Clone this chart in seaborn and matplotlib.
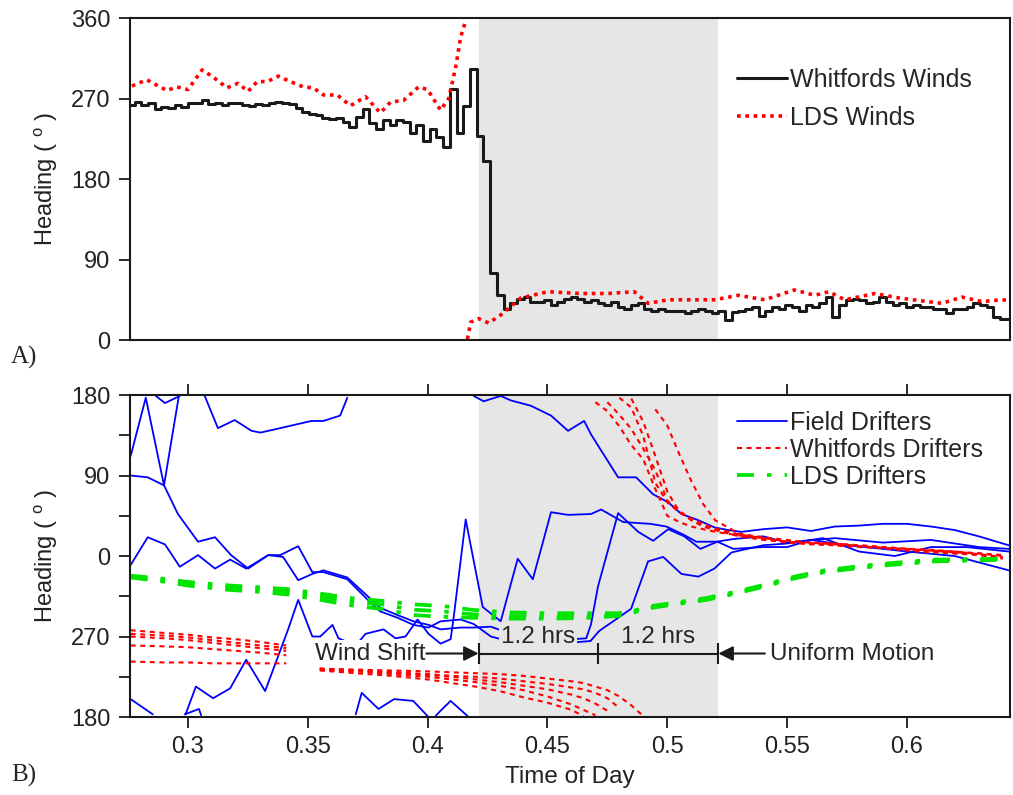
import numpy as np
import pandas as pd
import matplotlib
matplotlib.use('Agg')
import matplotlib.pyplot as plt
from matplotlib.lines import Line2D
import seaborn as sns

sns.set_theme(style='ticks')
plt.rcParams['font.family'] = ['Liberation Sans', 'DejaVu Sans']
plt.rcParams['mathtext.fontset'] = 'custom'
plt.rcParams['mathtext.rm'] = 'Liberation Sans'

# ---------------- data (headings in degrees, unwrapped) ----------------
# A) wind headings
whitfords_wind = [263, 266, 263, 265, 258, 261, 259, 263, 261, 265,
                  265, 268, 264, 265, 263, 265, 265, 263, 262, 264,
                  263, 265, 266, 265, 264, 259, 255, 253, 252, 248,
                  247, 248, 244, 238, 249, 258, 243, 236, 246, 240,
                  246, 244, 231, 240, 222, 236, 227, 216, 281, 232,
                  262, 303, 228,
                  200, 75, 50, 35, 41, 46, 48, 43, 43, 45,
                  39, 43, 46, 48, 46, 43, 45, 41, 39, 43,
                  37, 35, 39, 41, 35, 33, 35, 33, 32, 33,
                  30, 33, 35, 33, 30, 33, 22, 31, 33, 35,
                  37, 27, 33, 37, 35, 39, 37, 33, 39, 37,
                  41, 48, 26, 39, 45, 46, 45, 41, 43, 48,
                  43, 39, 41, 37, 39, 37, 37, 35, 35, 30,
                  35, 35, 37, 41, 39, 37, 26, 24, 24]
t_wind = np.round(0.2763 + 0.0028 * np.arange(len(whitfords_wind)), 4)

t_lds_wind = [0.2766, 0.2828, 0.2912, 0.2954, 0.300, 0.3059, 0.3105, 0.3163, 0.3209, 0.3251,
              0.3289, 0.3331, 0.3377, 0.3427, 0.3481, 0.3523, 0.3565, 0.3623, 0.3678, 0.3741,
              0.3803, 0.3845, 0.390, 0.3962, 0.400, 0.4054, 0.4088, 0.4117, 0.4138, 0.4159,
              0.4166, 0.418, 0.4213, 0.4255, 0.4305, 0.4389, 0.4502, 0.464, 0.4753, 0.4862,
              0.492, 0.5004, 0.5197, 0.5297, 0.5406, 0.5531, 0.5615, 0.5674, 0.5741, 0.5866,
              0.5967, 0.6146, 0.623, 0.6314, 0.6397, 0.644]
lds_wind = [284, 291, 279, 283, 280, 302, 294, 282, 287, 278,
            289, 289, 295, 289, 283, 282, 274, 274, 262, 272,
            254, 266, 268, 283, 280, 257, 270, 305, 339, 357,
            361, 380, 384, 379, 388, 407, 414, 412, 412, 414,
            401, 405, 405, 410, 405, 416, 410, 414, 405, 412,
            407, 401, 408, 403, 405, 404]

# B) drifter headings
t_f1 = [0.2761, 0.2853, 0.2866, 0.2904, 0.2966, 0.2987, 0.3046, 0.3055, 0.307, 0.3125,
        0.3195, 0.3265, 0.3303, 0.3385, 0.3515, 0.3565, 0.3635, 0.3665, 0.370, 0.3725,
        0.3795, 0.386, 0.394, 0.400, 0.4018, 0.4033, 0.4054, 0.4096, 0.4167, 0.4192,
        0.4234, 0.4305, 0.4347, 0.4431, 0.4515, 0.4586, 0.4653, 0.4682, 0.4724, 0.4795,
        0.487, 0.4941, 0.5004, 0.5059, 0.513, 0.5197, 0.5255, 0.531, 0.54, 0.55,
        0.56, 0.57, 0.58, 0.59, 0.60, 0.61, 0.62, 0.63, 0.6425]
field_1 = [200, 183, 179, 171, 179, 183, 189, 182, 179, 143,
           152, 140, 138, 143, 151, 151, 157, 177, 183, 207,
           189, 200, 198, 181, 177, 181, 187, 198, 181, 179,
           173, 179, 174, 168, 157, 140, 151, 136, 118, 88,
           88, 69, 60, 47, 40, 32, 29, 27, 30, 32,
           28, 33, 34, 36, 36, 33, 29, 22, 12]

t_f2 = [0.2761, 0.2832, 0.290, 0.2958, 0.3042, 0.3113, 0.318, 0.3251, 0.3335, 0.3385,
        0.346, 0.3519, 0.3565, 0.3665, 0.375, 0.3803, 0.3874, 0.3941, 0.4004, 0.4054,
        0.4138, 0.4192, 0.4264, 0.435, 0.455, 0.468, 0.4715, 0.4849, 0.492, 0.4983,
        0.5059, 0.513, 0.5197, 0.5268, 0.54, 0.55, 0.565, 0.58, 0.595, 0.61,
        0.625, 0.6425]
field_2 = [90, 88, 79, 47, 16, 21, 1, -14, 1, 1,
           11, -18, -18, -26, -49, -62, -69, -77, -80, -73,
           -71, -76, -90, -96, -98, -95, -84, -59, -6, -1,
           -20, -23, -14, 4, 12, 14, 20, 5, 0, 10,
           10, 5]

t_f3 = [0.2761, 0.2832, 0.2904, 0.2966, 0.3042, 0.3113, 0.3176, 0.3243, 0.3335, 0.3397,
        0.346, 0.3519, 0.3565, 0.3665, 0.375, 0.3803, 0.3874, 0.3941, 0.4004, 0.4054,
        0.4138, 0.4192, 0.4264, 0.44, 0.455, 0.4662, 0.4682, 0.4711, 0.4753, 0.4795,
        0.4879, 0.4941, 0.5004, 0.5071, 0.5138, 0.5209, 0.5276, 0.54, 0.55, 0.56,
        0.575, 0.59, 0.60, 0.62, 0.6425]
field_3 = [-10, 21, 13, -12, 1, -14, -4, -14, 1, -1,
           -27, -20, -16, -24, -45, -58, -66, -73, -77, -82,
           -80, -80, -79, -92, -94, -92, -76, -34, 7, 48,
           27, 17, 30, 22, 8, 16, 8, 10, 10, 18,
           12, 8, 5, 0, -16]

t_f4 = [0.2761, 0.2824, 0.290, 0.2962, 0.299, 0.3033, 0.3105, 0.3176, 0.3243, 0.3322,
        0.3418, 0.346, 0.3519, 0.3552, 0.3603, 0.3628, 0.37, 0.3741, 0.3816, 0.3866,
        0.3908, 0.3958, 0.4004, 0.4054, 0.4096, 0.4109, 0.4159, 0.4171, 0.423, 0.4305,
        0.4376, 0.4439, 0.4515, 0.4586, 0.4682, 0.4724, 0.4816, 0.4929, 0.4996, 0.5067,
        0.5121, 0.5205, 0.5276, 0.54, 0.55, 0.57, 0.59, 0.61, 0.63, 0.6425]
field_4 = [112, 177, 79, 179, 183, 214, 201, 212, 244, 209,
           278, 311, 270, 270, 283, 268, 260, 273, 278, 268,
           270, 289, 273, 262, 267, 292, 401, 384, 303, 287,
           357, 334, 409, 406, 407, 412, 398, 396, 393, 384,
           376, 376, 379, 382, 375, 380, 375, 378, 370, 368]

t_whit = [0.2761, 0.29, 0.30, 0.31, 0.32, 0.33, 0.341, 0.348, 0.355, 0.37,
          0.385, 0.40, 0.41, 0.42, 0.43, 0.44, 0.45, 0.46, 0.465, 0.47,
          0.475, 0.48, 0.485, 0.49, 0.495, 0.50, 0.505, 0.51, 0.515, 0.52,
          0.53, 0.54, 0.55, 0.56, 0.57, 0.58, 0.59, 0.60, 0.61, 0.62,
          0.63, 0.64]
nan = np.nan
whit_a = [242, 241, 241, 240, 240, 240, 240, nan, 232, 229,
          226, 222, 218, 214, 209, 202, 196, 188, 181, 172,
          162, 145, 124, 108, 75, 45, 38, 33, 30, 27,
          23, 20, 17, 15, 13, 12, 10, 8, 6, 4,
          3, 0]
whit_b = [260, 259, 258, 256, 254, 252, 249, nan, 233, 231,
          228, 225, 222, 219, 215, 210, 203, 194, 188, 182,
          172, 158, 142, 120, 96, 62, 50, 42, 36, 30,
          24, 20, 16, 14, 14, 11, 9, 8, 6, 5,
          2, -2]
whit_c = [270, 268, 266, 263, 260, 257, 254, nan, 234, 232,
          230, 228, 226, 225, 223, 220, 217, 213, 211, 207,
          201, 190, 176, 150, 112, 72, 50, 40, 33, 29,
          22, 18, 16, 14, 12, 11, 9, 7, 5, 3,
          2, -1]
whit_v = [273, 271, 269, 266, 263, 260, 257, nan, 234, 232,
          230, 227, 225, 222, 219, 215, 211, 205, 201, 195,
          187, 177, 166, 134, 82, 60, 49, 41, 35, 31,
          24, 19, 15, 13, 12, 10, 9, 6, 4, 3,
          1, -3]
whit_d = [277, 274, 272, 269, 267, 264, 260, nan, 234, 233,
          232, 231, 230, 229, 228, 226, 223, 220, 218, 214,
          210, 203, 193, 181, 164, 146, 114, 84, 58, 40,
          25, 21, 18, 15, 14, 12, 10, 8, 7, 5,
          3, 1]

t_lds = [0.2761, 0.2883, 0.30, 0.3176, 0.33, 0.3418, 0.3552, 0.3678, 0.3803, 0.3941,
         0.4067, 0.418, 0.4335, 0.4515, 0.4682, 0.4795, 0.4862, 0.4933, 0.5059, 0.5163,
         0.5268, 0.5393, 0.5531, 0.5657, 0.5782, 0.5883, 0.5979, 0.6117, 0.644]
lds_1 = [338, 335, 331, 327, 325, 323, 318, 313, 310, 306,
         304, 300, 297, 296, 296, 296, 299, 304, 309, 313,
         319, 327, 337, 344, 348, 351, 353, 356, 357]
lds_2 = [337, 333, 329, 325, 323, 320, 315, 309, 306, 300,
         298, 295, 293, 292, 293, 294, 298, 303, 308, 312,
         318, 326, 336, 343, 347, 350, 352, 355, 357]
lds_3 = [336, 332, 327, 322, 320, 317, 311, 305, 301, 294,
         292, 291, 290, 290, 291, 293, 297, 302, 307, 311,
         317, 325, 335, 342, 346, 349, 351, 354, 356]

t_shift, t_mid, t_uniform = 0.4213, 0.471, 0.5213

BLUE, RED, GREEN, SHADE = '#0000ff', '#ff0000', '#00e400', '#e6e6e6'
DOTS = (0, (1, 1.3))
DASH = (0, (2.4, 2.2))
DASHDOT = (0, (4.5, 3.5, 1.2, 3.5))


def wrapped(tracks, lo):
    """Long table of tracks wrapped into [lo, lo+360), split where they wrap."""
    frames = []
    for i, (t, h) in enumerate(tracks):
        d = (np.asarray(h, float) - lo) % 360 + lo
        brk = np.zeros(len(d), bool)
        brk[1:] = (np.abs(np.diff(d)) > 180) | np.isnan(d[:-1])
        seg = np.cumsum(brk)
        frames.append(pd.DataFrame({'t': t, 'h': d, 'seg': [f'{i}-{s}' for s in seg]}))
    return pd.concat(frames).dropna()


fig = plt.figure(figsize=(10.13, 7.95), dpi=100)
ax1 = fig.add_axes([0.1283, 0.5723, 0.8687, 0.4050])
ax2 = fig.add_axes([0.1283, 0.0981, 0.8687, 0.4050])

# ---------------- A) winds ----------------
ax1.axvspan(t_shift, t_uniform, color=SHADE, lw=0, zorder=0)
wind_df = pd.DataFrame({'t': t_wind, 'h': whitfords_wind})
sns.lineplot(data=wind_df, x='t', y='h', color='k', lw=2.2, drawstyle='steps-mid',
             ax=ax1, legend=False)
sns.lineplot(data=wrapped([(t_lds_wind, lds_wind)], 0), x='t', y='h', units='seg',
             estimator=None, color=RED, lw=2.6, linestyle=DOTS, ax=ax1, legend=False)
ax1.set_ylim(0, 360)
ax1.set_yticks([0, 90, 180, 270, 360])
ax1.tick_params(axis='x', bottom=False, labelbottom=False)

h1 = [Line2D([], [], color='k', lw=2.2), Line2D([], [], color=RED, lw=2.6, linestyle=DOTS)]
ax1.legend(h1, ['Whitfords Winds', 'LDS Winds'], loc='upper left', bbox_to_anchor=(0.69, 0.845),
           frameon=False, fontsize=18, handlelength=2.0, handletextpad=0.1,
           labelspacing=0.55, borderaxespad=0, borderpad=0)

# ---------------- B) drifters ----------------
ax2.axvspan(t_shift, t_uniform, color=SHADE, lw=0, zorder=0)
field = wrapped([(t_f1, field_1), (t_f2, field_2), (t_f3, field_3), (t_f4, field_4)], -180)
whit = wrapped([(t_whit, w) for w in (whit_a, whit_b, whit_c, whit_v, whit_d)], -180)
lds = wrapped([(t_lds, g) for g in (lds_1, lds_2, lds_3)], -180)
sns.lineplot(data=field, x='t', y='h', units='seg', estimator=None, color=BLUE, lw=1.3,
             ax=ax2, legend=False)
sns.lineplot(data=whit, x='t', y='h', units='seg', estimator=None, color=RED, lw=1.5,
             linestyle=DASH, ax=ax2, legend=False)
sns.lineplot(data=lds, x='t', y='h', units='seg', estimator=None, color=GREEN, lw=2.7,
             linestyle=DASHDOT, ax=ax2, legend=False)

ax2.set_ylim(-180, 180)
ax2.set_yticks([-180, -90, 0, 90, 180])
ax2.set_yticklabels(['180', '270', '0', '90', '180'])
ax2.set_yticks([-135, -45, 45, 135], minor=True)
ax2.set_xticks([0.3, 0.35, 0.4, 0.45, 0.5, 0.55, 0.6])
ax2.set_xticklabels(['0.3', '0.35', '0.4', '0.45', '0.5', '0.55', '0.6'])
ax2.tick_params(axis='x', top=True, labeltop=False)

h2 = [Line2D([], [], color=BLUE, lw=1.3),
      Line2D([], [], color=RED, lw=1.5, linestyle=DASH),
      Line2D([], [], color=GREEN, lw=2.7, linestyle=DASHDOT)]
ax2.legend(h2, ['Field Drifters', 'Whitfords Drifters', 'LDS Drifters'], loc='upper left',
           bbox_to_anchor=(0.69, 0.95), frameon=False, fontsize=18, handlelength=2.0,
           handletextpad=0.1, labelspacing=0.12, borderaxespad=0, borderpad=0)

# wind-shift / uniform-motion annotation
y_ann = -109
ax2.text(0.3991, y_ann, 'Wind Shift', ha='right', va='center', fontsize=17.5, zorder=5,
         bbox=dict(facecolor='white', edgecolor='none', pad=1.5))
ax2.text(0.5428, y_ann, 'Uniform Motion', ha='left', va='center', fontsize=17.5, zorder=5,
         bbox=dict(facecolor='white', edgecolor='none', pad=1.5))
for tc in [(t_shift + t_mid) / 2, (t_mid + t_uniform) / 2]:
    ax2.text(tc, -91, '1.2 hrs', ha='center', va='center', fontsize=17.5, zorder=5,
             bbox=dict(facecolor=SHADE, edgecolor='none', pad=1.5))
ax2.plot([t_shift, t_uniform], [y_ann, y_ann], color='k', lw=1.5, zorder=6)
ax2.vlines([t_shift, t_mid, t_uniform], y_ann - 12, y_ann + 12, color='k', lw=1.5, zorder=6)
ax2.annotate('', xy=(t_shift, y_ann), xytext=(0.3995, y_ann), zorder=6,
             arrowprops=dict(arrowstyle='-|>', color='k', lw=1.5, mutation_scale=22,
                             shrinkA=0, shrinkB=0))
ax2.annotate('', xy=(t_uniform, y_ann), xytext=(0.5407, y_ann), zorder=6,
             arrowprops=dict(arrowstyle='-|>', color='k', lw=1.5, mutation_scale=22,
                             shrinkA=0, shrinkB=0))

# ---------------- common styling ----------------
for ax in (ax1, ax2):
    ax.set_xlim(0.2758, 0.643)
    ax.set_facecolor('white')
    for sp in ax.spines.values():
        sp.set_color('k')
        sp.set_linewidth(1.5)
        sp.set_visible(True)
    ax.tick_params(which='both', direction='out', length=8, width=1.3, color='k',
                   labelsize=17, labelcolor='#222222', pad=6)
    ax.set_ylabel('Heading ( $^\\mathregular{o}$ )', fontsize=17, color='#222222')
    ax.yaxis.set_label_coords(-0.08, 0.5)
ax1.set_xlabel('')
ax2.set_xlabel('Time of Day', fontsize=17.5, color='#222222')
ax2.xaxis.set_label_coords(0.5, -0.152)

fig.text(0.011, 0.551, 'A)', family=['Liberation Serif'], fontsize=18, va='center')
fig.text(0.011, 0.025, 'B)', family=['Liberation Serif'], fontsize=18, va='center')

fig.savefig('out.png', dpi=100, facecolor='white')
